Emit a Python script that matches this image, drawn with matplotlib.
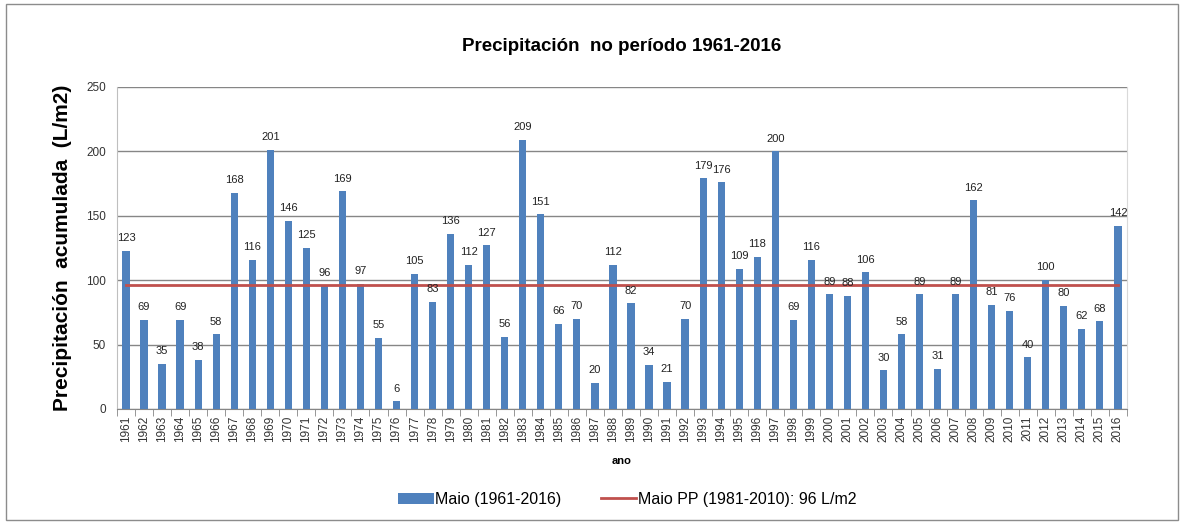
import numpy as np
import matplotlib
matplotlib.use("Agg")
import matplotlib.pyplot as plt
from matplotlib.patches import Rectangle

# datos: precipitación de maio por ano
anos = list(range(1961, 2017))
precip = [123, 69, 35, 69, 38, 58, 168, 116, 201, 146,
          125, 96, 169, 97, 55, 6, 105, 83, 136, 112,
          127, 56, 209, 151, 66, 70, 20, 112, 82, 34,
          21, 70, 179, 176, 109, 118, 200, 69, 116, 89,
          88, 106, 30, 58, 89, 31, 89, 162, 81, 76,
          40, 100, 80, 62, 68, 142]
media_pp = 96
y_ticks = [0, 50, 100, 150, 200, 250]

plt.rcParams['font.family'] = ['Liberation Sans', 'DejaVu Sans']

fig = plt.figure(figsize=(11.84, 5.24), dpi=100)
# marco exterior do gráfico
fig.patches.append(Rectangle((0.005, 0.008), 0.99, 0.985, transform=fig.transFigure,
                             fill=False, edgecolor='#8c8c8c', linewidth=1.0))

ax = fig.add_axes([0.0988, 0.2195, 0.8530, 0.6145])
x = np.arange(len(anos))

barras = ax.bar(x, precip, width=0.4, color='#4F81BD', zorder=3)
linha, = ax.plot(x, [media_pp] * len(x), color='#C0504D', linewidth=2, zorder=4)

for xi, v in zip(x, precip):
    ax.text(xi, v + 6, str(v), ha='center', va='bottom', fontsize=8,
            color='#222222', zorder=5)

ax.set_xlim(-0.5, len(anos) - 0.5)
ax.set_ylim(0, 250)
ax.set_yticks(y_ticks)
ax.set_yticklabels([str(t) for t in y_ticks], fontsize=8.5, color='#333333')
ax.yaxis.grid(True, color='#868686', linewidth=1, zorder=0)
ax.tick_params(axis='y', length=0, pad=8)

ax.set_xticks(x)
ax.set_xticklabels([str(a) for a in anos], rotation=90, fontsize=8.5, color='#333333')
ax.tick_params(axis='x', length=0, pad=5)
ax.set_xticks(np.arange(-0.5, len(anos), 1), minor=True)
ax.tick_params(axis='x', which='minor', length=5, color='#868686')

ax.spines['top'].set_visible(False)
ax.spines['right'].set_color('#d9d9d9')
ax.spines['left'].set_color('#bfbfbf')
ax.spines['bottom'].set_color('#868686')

ax.set_title('Precipitación  no período 1961-2016', fontsize=13.5,
             fontweight='bold', pad=26)
ax.set_ylabel('Precipitación  acumulada  (L/m2)', fontsize=15,
              fontweight='bold', labelpad=10)
ax.set_xlabel('ano', fontsize=8, fontweight='bold', labelpad=10)

fig.legend([barras, linha],
           ['Maio (1961-2016)', 'Maio PP (1981-2010): 96 L/m2'],
           loc='lower center', bbox_to_anchor=(0.53, 0.005), ncol=2,
           frameon=False, fontsize=11.5, handlelength=2.2,
           columnspacing=2.5, handletextpad=0.1)

fig.savefig('out.png', dpi=100)
